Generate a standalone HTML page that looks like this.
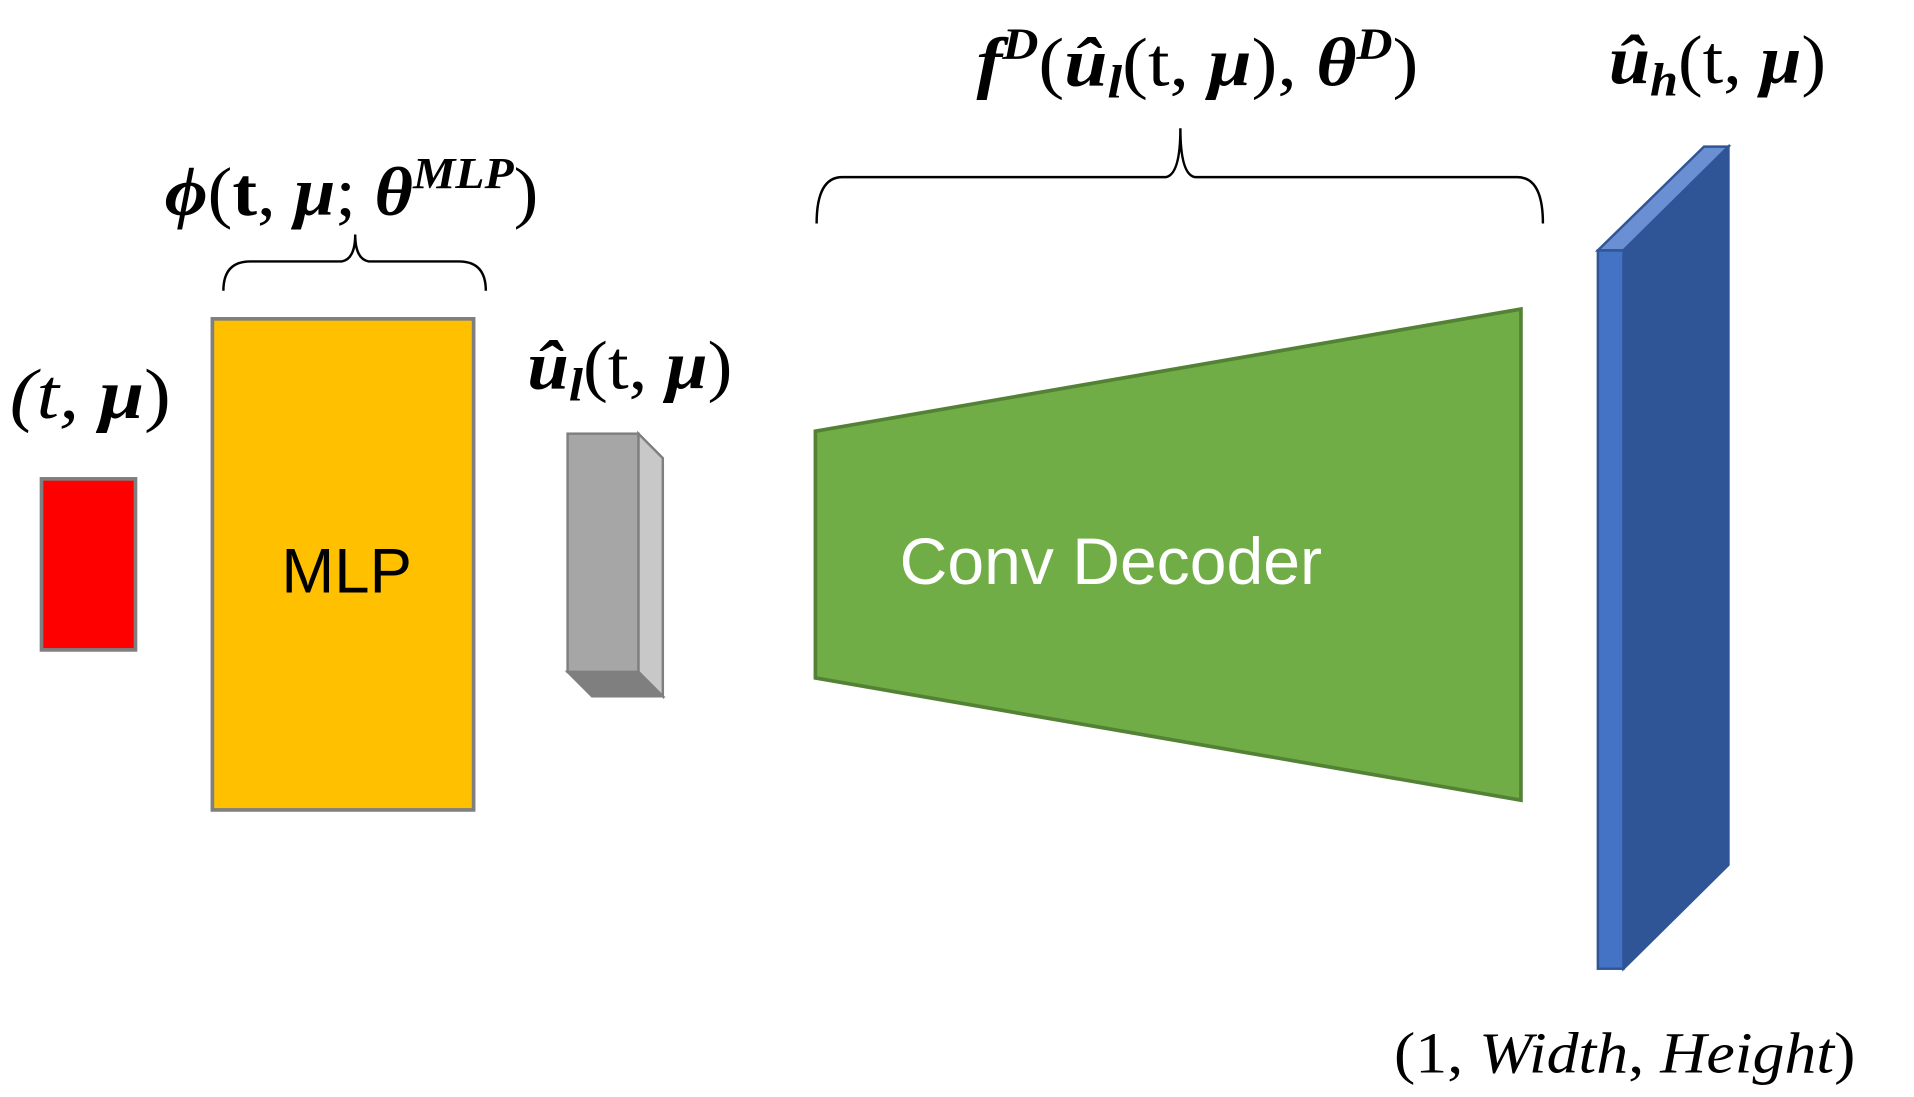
<!DOCTYPE html>
<html><head><meta charset="utf-8"><style>
html,body{margin:0;padding:0;background:#fff;}
svg{display:block;}
.m{font-family:"Liberation Serif","DejaVu Serif",serif;fill:#000;}
</style></head><body>
<svg width="1914" height="1097" viewBox="0 0 1568 898" preserveAspectRatio="none" xmlns="http://www.w3.org/2000/svg">
<rect width="1568" height="898" fill="#fff"/>
<rect x="34" y="392" width="77" height="140" fill="#FF0000" stroke="#7f7f7f" stroke-width="3"/>
<text class="m" x="8" y="342" font-size="58" textLength="132" lengthAdjust="spacingAndGlyphs"><tspan font-style="italic">(t, </tspan><tspan font-weight="bold" font-style="italic">μ</tspan>)</text>
<rect x="174" y="261" width="214" height="402" fill="#FFC000" stroke="#7f7f7f" stroke-width="3"/>
<text x="284" y="485" font-size="52" text-anchor="middle" font-family="'Liberation Sans',sans-serif" fill="#000">MLP</text>
<path d="M183,238 Q183,214 205,214 L280,214 Q291,212 291,192 Q291,212 302,214 L376,214 Q398,214 398,238" fill="none" stroke="#000" stroke-width="2"/>
<text class="m" x="135" y="176" font-size="56" textLength="306" lengthAdjust="spacingAndGlyphs"><tspan font-weight="bold" font-style="italic">ϕ</tspan>(<tspan font-weight="bold">t</tspan>, <tspan font-weight="bold" font-style="italic">μ</tspan>; <tspan font-weight="bold" font-style="italic">θ</tspan><tspan font-weight="bold" font-style="italic" font-size="36" dy="-22">MLP</tspan><tspan dy="22">)</tspan></text>
<polygon points="523,355 543,375 543,570 523,550" fill="#c8c8c8" stroke="#7f7f7f" stroke-width="2"/>
<polygon points="465,550 523,550 543,570 485,570" fill="#7f7f7f" stroke="#7f7f7f" stroke-width="2"/>
<rect x="465" y="355" width="58" height="195" fill="#a6a6a6" stroke="#7f7f7f" stroke-width="2"/>
<text class="m" x="432" y="318" font-size="56" textLength="168" lengthAdjust="spacingAndGlyphs"><tspan font-weight="bold" font-style="italic">û</tspan><tspan font-weight="bold" font-style="italic" font-size="38" dy="10">l</tspan><tspan dy="-10">(t, </tspan><tspan font-weight="bold" font-style="italic">μ</tspan>)</text>
<polygon points="668,353 1246,253 1246,655 668,555" fill="#70AD47" stroke="#548235" stroke-width="3"/>
<text x="737" y="478" font-size="54" font-family="'Liberation Sans',sans-serif" fill="#fff" textLength="346" lengthAdjust="spacingAndGlyphs">Conv Decoder</text>
<path d="M669,183 Q669,145 690,145 L955,145 Q967,143 967,105 Q967,143 979,145 L1243,145 Q1264,145 1264,183" fill="none" stroke="#000" stroke-width="2"/>
<text class="m" x="800" y="70" font-size="56" textLength="362" lengthAdjust="spacingAndGlyphs"><tspan font-weight="bold" font-style="italic">f</tspan><tspan font-weight="bold" font-style="italic" font-size="36" dy="-22">D</tspan><tspan dy="22">(</tspan><tspan font-weight="bold" font-style="italic">û</tspan><tspan font-weight="bold" font-style="italic" font-size="38" dy="10">l</tspan><tspan dy="-10">(t, </tspan><tspan font-weight="bold" font-style="italic">μ</tspan>), <tspan font-weight="bold" font-style="italic">θ</tspan><tspan font-weight="bold" font-style="italic" font-size="36" dy="-22">D</tspan><tspan dy="22">)</tspan></text>
<polygon points="1309,205 1396,120 1416,120 1330,205" fill="#6a8fd3" stroke="#2F5597" stroke-width="2"/>
<polygon points="1330,205 1416,120 1416,708 1330,793" fill="#2F5597" stroke="#2F5597" stroke-width="2"/>
<rect x="1309" y="205" width="21" height="588" fill="#4472C4" stroke="#2F5597" stroke-width="2"/>
<text class="m" x="1318" y="68" font-size="56" textLength="178" lengthAdjust="spacingAndGlyphs"><tspan font-weight="bold" font-style="italic">û</tspan><tspan font-weight="bold" font-style="italic" font-size="38" dy="10">h</tspan><tspan dy="-10">(t, </tspan><tspan font-weight="bold" font-style="italic">μ</tspan>)</text>
<text class="m" x="1142" y="878" font-size="48" textLength="378" lengthAdjust="spacingAndGlyphs">(1, <tspan font-style="italic">Width</tspan>, <tspan font-style="italic">Height</tspan>)</text>
</svg>
</body></html>
